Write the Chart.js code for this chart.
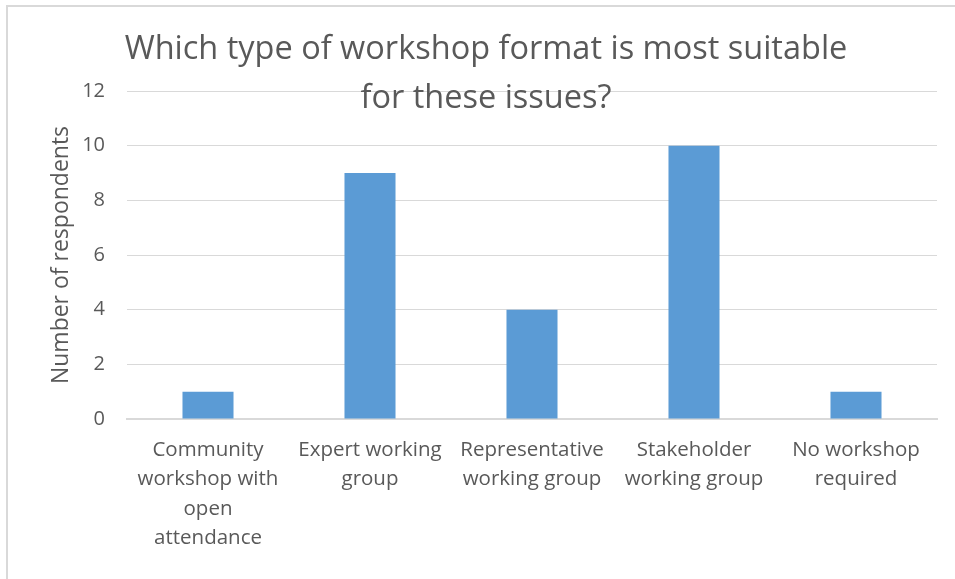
<!DOCTYPE html>
<html>
<head>
<meta charset="utf-8">
<script src="https://cdn.jsdelivr.net/npm/chart.js@4.4.1/dist/chart.umd.min.js"></script>
<style>
  html, body { margin: 0; padding: 0; background: #ffffff; }
  #wrap { width: 955px; height: 579px; position: relative; }
</style>
</head>
<body>
<div id="wrap"><canvas id="chart" width="955" height="579"></canvas></div>
<script>
// Survey responses: preferred workshop format
const categories = [
  ["Community", "workshop with", "open", "attendance"],
  ["Expert working", "group"],
  ["Representative", "working group"],
  ["Stakeholder", "working group"],
  ["No workshop", "required"]
];
const respondents = [1, 9, 4, 10, 1];
const yTicks = [0, 2, 4, 6, 8, 10, 12];
const titleLines = ["Which type of workshop format is most suitable", "for these issues?"];
const yAxisTitle = "Number of respondents";

const FONT = "'Open Sans', 'Liberation Sans', sans-serif";
const TEXT = "#595959";
const GRID = "#d9d9d9";

// Frame around the chart and a title that sits over the top of the plot
const decorations = {
  id: 'decorations',
  beforeDraw(chart) {
    const ctx = chart.ctx;
    ctx.save();
    ctx.fillStyle = '#ffffff';
    ctx.fillRect(0, 0, chart.width, chart.height);
    ctx.strokeStyle = GRID;
    ctx.lineWidth = 2;
    ctx.strokeRect(7, 6, chart.width + 10, chart.height + 10);
    ctx.restore();
  },
  afterDraw(chart) {
    const ctx = chart.ctx;
    ctx.save();
    ctx.fillStyle = TEXT;
    ctx.font = "32.5px " + FONT;
    ctx.textAlign = 'center';
    ctx.textBaseline = 'middle';
    const cx = 486;
    titleLines.forEach((line, i) => ctx.fillText(line, cx, 50 + i * 49));
    ctx.restore();
  }
};

new Chart(document.getElementById('chart'), {
  type: 'bar',
  data: {
    labels: categories,
    datasets: [{
      data: respondents,
      backgroundColor: '#5B9BD5',
      borderWidth: 0,
      categoryPercentage: 1,
      barPercentage: 0.315
    }]
  },
  options: {
    responsive: false,
    animation: false,
    devicePixelRatio: 1,
    layout: { padding: { left: 44, right: 18, top: 91, bottom: 0 } },
    plugins: {
      legend: { display: false },
      title: { display: false },
      tooltip: { enabled: false }
    },
    scales: {
      x: {
        grid: { display: false, drawTicks: false },
        border: { display: true, color: GRID, width: 2 },
        ticks: {
          color: TEXT,
          font: { family: FONT, size: 20.5, lineHeight: 1.44 },
          padding: 16,
          maxRotation: 0,
          autoSkip: false
        },
        afterFit(scale) { scale.height = 160; }
      },
      y: {
        min: 0,
        max: 12,
        afterBuildTicks(scale) { scale.ticks = yTicks.map(v => ({ value: v })); },
        grid: { color: GRID, lineWidth: 1, drawTicks: false },
        border: { display: false },
        ticks: {
          color: TEXT,
          font: { family: FONT, size: 20 },
          padding: 22
        },
        title: {
          display: true,
          text: yAxisTitle,
          color: TEXT,
          font: { family: FONT, size: 23 },
          padding: { top: 4, bottom: 0 }
        },
        afterFit(scale) { scale.width = 83; }
      }
    }
  },
  plugins: [decorations]
});
</script>
</body>
</html>
